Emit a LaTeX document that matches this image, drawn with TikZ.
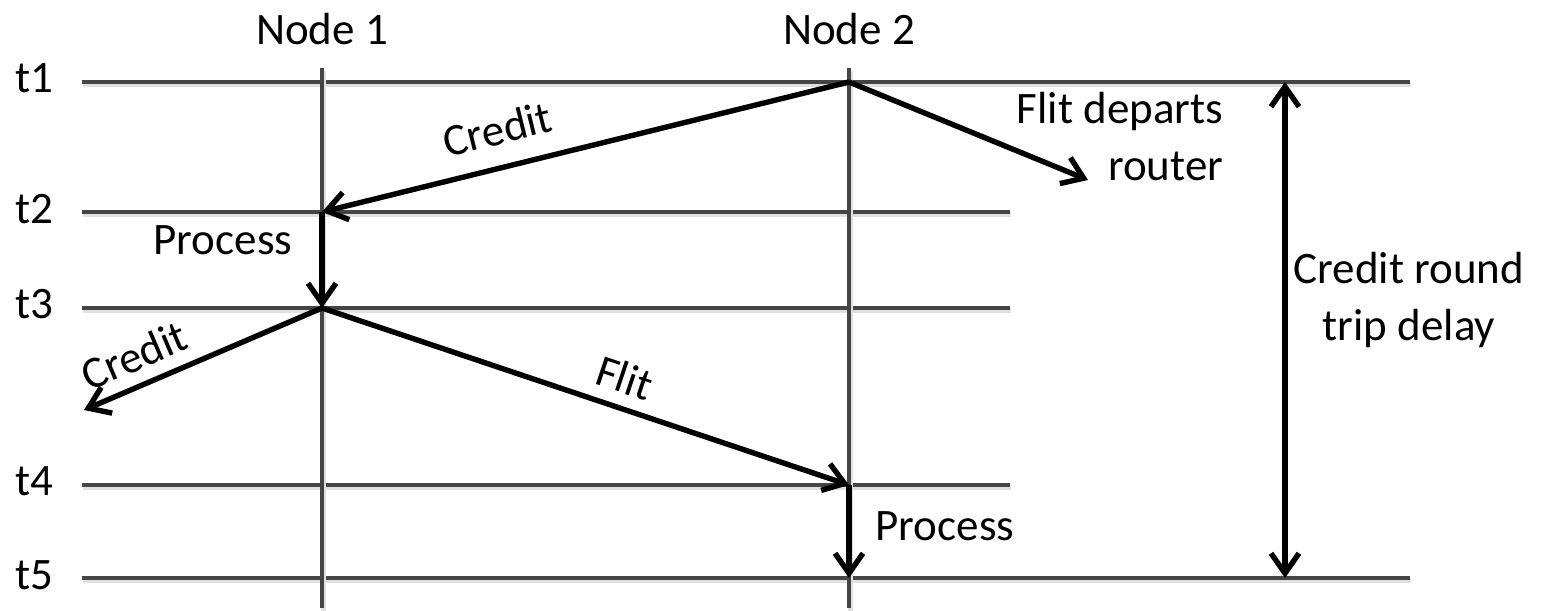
\documentclass[tikz,border=0pt]{standalone}
\usepackage{fontspec}
\setmainfont{Carlito}
\usepackage{tikz}
\usetikzlibrary{positioning,arrows.meta,calc}
\definecolor{TLGray}{HTML}{454545}

\begin{document}
\begin{tikzpicture}[
  x=0.5pt,y=-0.5pt,
  timeline/.style={draw=TLGray,line width=2pt,preaction={draw=black!12,line width=2.6pt,transform canvas={xshift=0.6pt,yshift=-1.4pt}}},
  msg/.style={-{Straight Barb[length=10pt,width=14pt]},line width=2.7pt,black},
  span/.style={{Straight Barb[length=10pt,width=14pt]}-{Straight Barb[length=10pt,width=14pt]},line width=2.7pt,black},
  lbl/.style={font=\fontsize{22.5}{28.5}\selectfont,inner sep=1pt,align=center}
]
\useasboundingbox (0,0) rectangle (1549,611);

% time rows
\node[lbl] (t1) at (34,78) {t1};
\node[lbl] (t2) at (34,209) {t2};
\node[lbl] (t3) at (34,304) {t3};
\node[lbl] (t4) at (34,481) {t4};
\node[lbl] (t5) at (34,575) {t5};
\coordinate (t1s) at (82,82);  \coordinate (t1e) at (1410,82);
\coordinate (t2s) at (82,212); \coordinate (t2e) at (1010,212);
\coordinate (t3s) at (82,308); \coordinate (t3e) at (1010,308);
\coordinate (t4s) at (82,485); \coordinate (t4e) at (1010,485);
\coordinate (t5s) at (82,578); \coordinate (t5e) at (1410,578);
\draw[timeline] (t1s) -- (t1e);
\draw[timeline] (t2s) -- (t2e);
\draw[timeline] (t3s) -- (t3e);
\draw[timeline] (t4s) -- (t4e);
\draw[timeline] (t5s) -- (t5e);

% the two routers
\node[lbl] (node1) at (322,29) {Node 1};
\node[lbl] (node2) at (849,29) {Node 2};
\coordinate (n1top) at (322,68); \coordinate (n1bot) at (322,608);
\coordinate (n2top) at (849,68); \coordinate (n2bot) at (849,608);
\draw[timeline] (n1top) -- (n1bot);
\draw[timeline] (n2top) -- (n2bot);

% events
\coordinate (n2t1) at (849,82);
\coordinate (n1t2) at (322,212);
\coordinate (n1t3) at (322,308);
\coordinate (n2t4) at (849,485);
\coordinate (n2t5) at (849,578);
\coordinate (depart) at (1088,180);
\coordinate (upstream) at (84,410);

\draw[msg] (n2t1) -- node[lbl,sloped,above=9pt,pos=0.65] {Credit} (n1t2);
\draw[msg] (n2t1) -- (depart);
\node[lbl,align=right] (fdr) at (1120,137) {Flit departs\\router};
\draw[msg] (n1t2) -- (n1t3);
\node[lbl] (proc1) at (223,240) {Process};
\draw[msg] (n1t3) -- node[lbl,sloped,above=5pt,pos=0.74] {Credit} (upstream);
\draw[msg] (n1t3) -- node[lbl,sloped,above=5pt,pos=0.556] {Flit} (n2t4);
\draw[msg] (n2t4) -- (n2t5);
\node[lbl] (proc2) at (945,526) {Process};

% round trip span
\coordinate (rtt1) at (1285,82);
\coordinate (rtt5) at (1285,578);
\draw[span] (rtt1) -- (rtt5);
\node[lbl] (rtt) at (1409,300) {Credit round\\trip delay};
\end{tikzpicture}
\end{document}
